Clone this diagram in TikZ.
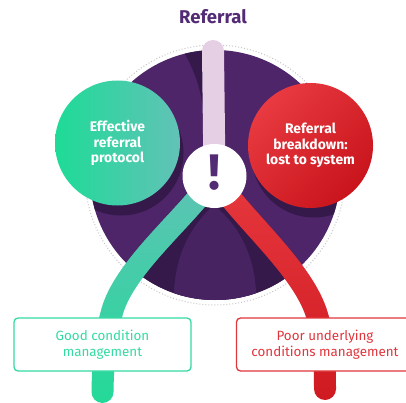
\documentclass[tikz,border=0pt]{standalone}
\usepackage{fontspec}
\setmainfont{Fira Sans}
\usetikzlibrary{calc,fadings}
\definecolor{plum}{HTML}{532A74}
\definecolor{sphere}{HTML}{4E2568}
\definecolor{sphdark}{HTML}{35194B}
\definecolor{sphlens}{HTML}{472361}
\definecolor{stickc}{HTML}{E4CFE5}
\definecolor{gOne}{HTML}{1EDB97}
\definecolor{gTwo}{HTML}{62C2B7}
\definecolor{rOne}{HTML}{E83A40}
\definecolor{rTwo}{HTML}{C9141C}
\definecolor{gRib}{HTML}{24DA99}
\definecolor{rRib}{HTML}{D01A22}
\definecolor{gLine}{HTML}{33DBA2}
\definecolor{rLine}{HTML}{E0363D}
\tikzfading[name=ribfade, top color=transparent!0, middle color=transparent!75,
  bottom color=transparent!100]
\tikzset{>=latex, ball/.style={circle, minimum size=125pt, inner sep=0pt,
    text=white, align=center, font=\bfseries\fontsize{13.9}{15.7}\selectfont},
  heading/.style={font=\bfseries\fontsize{18.5}{18.5}\selectfont, text=plum},
  ribbon/.style={line width=22pt, line cap=round},
  outcome/.style={draw, line width=1.3pt, rounded corners=4pt, fill=white,
    minimum width=177pt, minimum height=53pt, inner sep=0pt, align=center,
    font=\fontsize{13.4}{16}\selectfont}}

\begin{document}
\begin{tikzpicture}[x=1pt,y=-1pt]
        \useasboundingbox (0,0) rectangle (406,403);
        \clip (0,0) rectangle (406,403);
        \node[heading] (title) at (213,17) {Referral};
        \draw[gray!45, line width=1pt, dotted] (215,175) circle (130pt);
        \node[circle, minimum size=250pt, fill=sphere] (sph) at (215,175) {};
        \node[circle, minimum size=64pt, inner sep=0pt] (alert) at (214.5,176) {};
        \coordinate (top) at (213,51);
        \coordinate (gend) at (102.5,392);
        \coordinate (rend) at (325,389);
        \begin{scope}
          \clip (sph.center) circle (125pt);
          \fill[sphdark] (121,153) circle (62.5pt);
          \fill[sphdark] (314,155) circle (62.5pt);
          \fill[sphdark] (180,46) .. controls (195,70) and (202,90) .. (204,120)
            -- (214,120) -- (214,40) -- cycle;
          \fill[sphdark] (alert.center) .. controls (190,215) and (125,265) .. (112,312)
            -- (316,312) .. controls (300,265) and (238,215) .. (alert.center) -- cycle;
          \fill[sphlens] (214,205) .. controls (180,235) and (172,275) .. (174,310)
            -- (256,310) .. controls (258,275) and (250,235) .. (214,205) -- cycle;
        \end{scope}
        \draw[ribbon, stickc] (top) -- (alert.center);
        \draw[ribbon, gRib] (alert.center) .. controls (190,215) and (125,265) .. (112,312)
          .. controls (105.5,335.5) and (103,360) .. (gend);
        \draw[ribbon, gTwo, path fading=ribfade] (alert.center) .. controls (190,215) and (125,265) .. (112,312)
          .. controls (105.5,335.5) and (103,360) .. (gend);
        \draw[ribbon, rRib] (alert.center) .. controls (238,215) and (300,265) .. (316,312)
          .. controls (324,335.5) and (325,360) .. (rend);
        \draw[ribbon, rOne, path fading=ribfade] (alert.center) .. controls (238,215) and (300,265) .. (316,312)
          .. controls (324,335.5) and (325,360) .. (rend);
        \node[circle, minimum size=64pt, fill=white] at (alert) {};
        \node[text=plum, font=\bfseries\fontsize{50}{50}\selectfont] (mark) at (214.5,172.5) {!};
        \node[ball, left color=gOne, right color=gTwo] (good) at (117.5,143) {Effective\\referral\\protocol};
        \node[ball, top color=rOne, bottom color=rTwo, shading angle=45] (poor) at (310.5,145.5) {Referral\\breakdown:\\lost to system};
        \node[outcome, draw=gLine, text=gLine] (goodbox) at (102.5,344.5) {Good condition\\management};
        \node[outcome, draw=rLine, text=rLine] (poorbox) at (325,344.5) {Poor underlying\\conditions management};
\end{tikzpicture}
\end{document}
